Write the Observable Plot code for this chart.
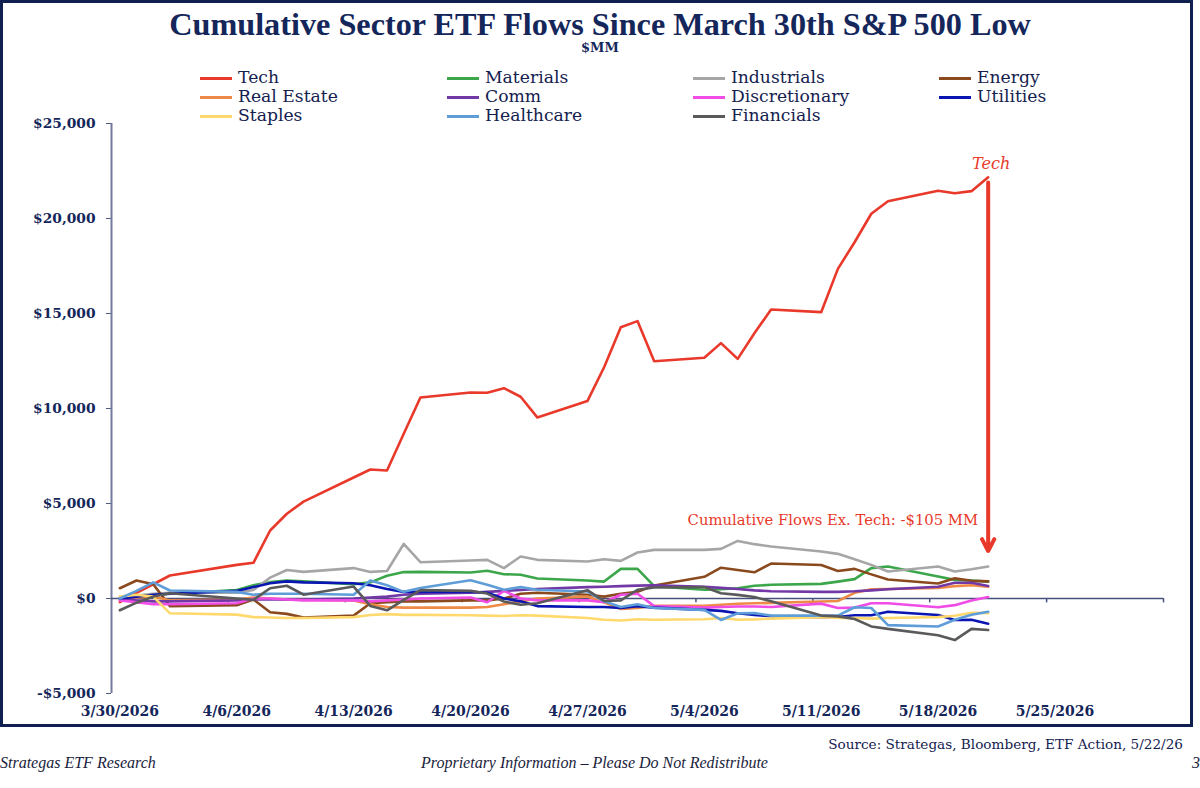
<!DOCTYPE html>
<html><head><meta charset="utf-8">
<script src="https://cdn.jsdelivr.net/npm/d3@7"></script>
<script src="https://cdn.jsdelivr.net/npm/@observablehq/plot@0.6"></script>
<style>
body{margin:0;background:#fff;}
#wrap{position:relative;width:1200px;height:788px;overflow:hidden;background:#fff;font-family:"DejaVu Serif",serif;}
#chart{position:absolute;left:0;top:0;}
#frame{position:absolute;left:0;top:0;width:1193px;height:727px;box-sizing:border-box;border:3px solid #0f1f4f;pointer-events:none;}
#title{position:absolute;left:0;width:1200px;top:7px;text-align:center;font-family:"Liberation Serif",serif;font-weight:bold;color:#14265a;white-space:nowrap;font-size:30px;line-height:1.1;}
#sub{position:absolute;left:0;width:1200px;top:40px;text-align:center;font-weight:bold;color:#14265a;font-size:13px;}
.leg{position:absolute;font-size:17.2px;color:#14214f;white-space:nowrap;line-height:1;}
.leg i{position:absolute;top:8px;height:3px;width:32px;}
.leg span{position:absolute;left:38px;top:0;}
#source{position:absolute;right:17px;top:736px;font-size:13.6px;color:#14214f;white-space:nowrap;}
.foot{position:absolute;top:754px;font-family:"Liberation Serif",serif;font-style:italic;font-size:16px;color:#1a1d3c;white-space:nowrap;}
</style></head>
<body><div id="wrap"><div id="chart"></div><div id="frame"></div>
<div id="title">Cumulative Sector ETF Flows Since March 30th S&amp;P 500 Low</div>
<div id="sub">$MM</div>
<div id="legend"></div>
<div id="source">Source: Strategas, Bloomberg, ETF Action, 5/22/26</div>
<div class="foot" style="left:0px">Strategas ETF Research</div>
<div class="foot" style="left:421px">Proprietary Information – Please Do Not Redistribute</div>
<div class="foot" style="left:1192px">3</div>
</div>
<script>
// ---- data (trading days) ----
const dates = ["2026-03-30","2026-03-31","2026-04-01","2026-04-02",
"2026-04-06","2026-04-07","2026-04-08","2026-04-09","2026-04-10",
"2026-04-13","2026-04-14","2026-04-15","2026-04-16","2026-04-17",
"2026-04-20","2026-04-21","2026-04-22","2026-04-23","2026-04-24",
"2026-04-27","2026-04-28","2026-04-29","2026-04-30","2026-05-01",
"2026-05-04","2026-05-05","2026-05-06","2026-05-07","2026-05-08",
"2026-05-11","2026-05-12","2026-05-13","2026-05-14","2026-05-15",
"2026-05-18","2026-05-19","2026-05-20","2026-05-21"];

const tech = [-190,300,750,1210, 1770,1880,3580,4460,5100, 6370,6790,6740,8670,10580, 10840,10830,11070,10620,9530, 10390,12170,14280,14600,12490, 12670,13440,12610,13960,15210, 15070,17350,18750,20250,20910, 21460,21330,21440,22170];
const materials = [0,150,200,250, 450,700,860,950,900, 750,850,1200,1390,1400, 1370,1460,1280,1250,1050, 950,890,1560,1560,650, 460,490,540,670,720, 770,890,1020,1600,1680, 1160,980,950,890];
const industrials = [50,150,250,300, 300,450,1100,1500,1400, 1600,1400,1450,2870,1910, 2000,2035,1600,2210,2035, 1950,2070,1980,2420,2560, 2560,2610,3030,2860,2740, 2470,2350,2070,1770,1420, 1680,1420,1540,1680];
const energy = [540,950,750,-400, -350,-50,-720,-810,-1000, -900,-250,-200,-150,-150, -100,-100,0,250,300, 200,100,250,350,680, 1140,1620,1500,1380,1840, 1760,1450,1560,1270,1000, 790,1060,930,900];
const realEstate = [-100,50,100,-100, -50,50,0,-50,-50, -100,-300,-450,-480,-480, -480,-450,-300,-150,0, 100,-200,-550,-500,-380, -380,-330,-280,-250,-230, -160,-130,300,480,500, 550,650,700,620];
const comm = [0,-100,-150,-150, -100,-50,-50,-50,-50, 0,50,100,200,250, 300,350,400,450,500, 600,620,650,680,700, 620,560,500,430,380, 350,350,380,430,490, 620,830,830,660];
const discretionary = [-100,-200,-300,-300, -250,0,0,-50,-100, -100,-150,-100,-50,0, 50,-200,400,0,-100, -100,-200,200,250,-400, -480,-450,-420,-420,-450, -270,-500,-480,-250,-250, -460,-350,-100,80];
const utilities = [0,100,200,250, 400,600,800,900,850, 800,700,500,350,350, 350,300,0,-150,-400, -450,-450,-500,-400,-480, -600,-650,-780,-870,-930, -980,-980,-880,-880,-700, -870,-1130,-1120,-1330];
const staples = [100,200,100,-780, -850,-980,-1000,-1030,-1030, -980,-870,-820,-860,-860, -880,-900,-920,-880,-900, -1030,-1120,-1160,-1090,-1120, -1090,-1030,-1120,-1100,-1060, -980,-1030,-1030,-1060,-1030, -980,-910,-750,-770];
const healthcare = [0,400,850,420, 350,200,250,250,250, 200,950,700,350,550, 960,720,460,600,460, 370,-150,-450,-300,-500, -600,-1130,-780,-770,-900, -900,-900,-460,-500,-1400, -1470,-1120,-860,-700];
const financials = [-620,-220,100,280, 0,-70,540,670,200, 630,-390,-620,-70,440, 400,260,-160,-330,-250, 440,-130,-100,460,580, 600,280,190,80,-150, -900,-940,-1080,-1470,-1600, -1930,-2190,-1600,-1660];

const sectorNames = ["Tech","Materials","Industrials","Energy","Real Estate","Comm","Discretionary","Utilities","Staples","Healthcare","Financials"];
const sectorSeries = [tech,materials,industrials,energy,realEstate,comm,discretionary,utilities,staples,healthcare,financials];
const sectorColors = ["#e8392b","#3ca64a","#a6a6a6","#8a4a1e","#ee8a48","#7238a6","#f04ce6","#0b16b2","#ffd96e","#5f9dd8","#5a5a5a"];

const yTicks = [-5000,0,5000,10000,15000,20000,25000];
const xLabelDates = ["2026-03-30","2026-04-06","2026-04-13","2026-04-20","2026-04-27","2026-05-04","2026-05-11","2026-05-18","2026-05-25"];

const techLabel = [{date:"2026-05-21", value:22900, text:"Tech"}];
const exTechLabel = [{date:"2026-05-21", value:4100, text:"Cumulative Flows Ex. Tech: -$105 MM"}];
const arrowData = [{date:"2026-05-21", from:21900, to:2500}];

// ---- build ----
const parse = d3.utcParse("%Y-%m-%d");
const table = [];
sectorNames.forEach((name, k) => sectorSeries[k].forEach((v, i) => table.push({date: parse(dates[i]), value: v, sector: name})));
const halfDay = 12*3600*1000;
const xDomain = [new Date(parse("2026-03-30") - halfDay), new Date(parse("2026-05-31").getTime() + halfDay)];
const xLabels = xLabelDates.map(parse);
const weekBounds = xLabels.slice(1).map(d => new Date(d - halfDay)).concat([xDomain[1]]);
const navy = "#14265a";
const fmt = d => (d < 0 ? "-$" : "$") + d3.format(",")(Math.abs(d));

const chart = Plot.plot({
  width: 1200, height: 788,
  marginTop: 123, marginBottom: 95, marginLeft: 111, marginRight: 37,
  style: {background: "transparent", fontFamily: "DejaVu Serif", overflow: "visible"},
  x: {type: "utc", domain: xDomain},
  y: {domain: [-5000, 25000]},
  color: {domain: sectorNames, range: sectorColors},
  marks: [
    Plot.axisY({ticks: yTicks, tickFormat: fmt, tickSize: 5, tickPadding: 11, fontSize: 13.8, fontWeight: "bold", fill: navy, stroke: "#50597e", label: null}),
    Plot.axisX({ticks: xLabels, tickFormat: d3.utcFormat("%-m/%-d/%Y"), tickSize: 0, tickPadding: 13, fontSize: 14, fontWeight: "bold", fill: navy, label: null}),
    Plot.ruleX([xDomain[0]], {stroke: "#737a9c", strokeWidth: 2}),
    Plot.ruleY([0], {stroke: "#47507c", strokeWidth: 1.6}),
    Plot.ruleX(weekBounds, {x: d => d, y1: 0, y2: -230, stroke: "#47507c", strokeWidth: 1.5}),
    Plot.lineY(table, {x: "date", y: "value", z: "sector", stroke: "sector", strokeWidth: 2.6, strokeLinejoin: "round"}),
    Plot.arrow(arrowData, {x1: d => parse(d.date), x2: d => parse(d.date), y1: "from", y2: "to", stroke: "#e8392b", strokeWidth: 4, headLength: 5, headAngle: 55}),
    Plot.text(techLabel, {x: d => parse(d.date), y: "value", text: "text", fill: "#e8392b", fontStyle: "italic", fontSize: 16, dx: 3}),
    Plot.text(exTechLabel, {x: d => parse(d.date), y: "value", text: "text", fill: "#e8392b", fontSize: 14.8, textAnchor: "end", dx: -10})
  ]
});
document.getElementById("chart").appendChild(chart);

// legend
const legCols = [200, 447, 693, 939], legRows = [69, 88, 107];
const legend = document.getElementById("legend");
sectorNames.forEach((name, k) => {
  const div = document.createElement("div");
  div.className = "leg";
  div.style.left = legCols[k % 4] + "px";
  div.style.top = legRows[Math.floor(k / 4)] + "px";
  div.innerHTML = `<i style="background:${sectorColors[k]}"></i><span>${name}</span>`;
  legend.appendChild(div);
});
// fit title to reference width
const t = document.getElementById("title");
const sp = document.createElement("span"); sp.textContent = t.textContent; t.textContent = ""; t.appendChild(sp);
const w = sp.getBoundingClientRect().width;
t.style.fontSize = (30 * 862 / w) + "px";
</script>
</body></html>
